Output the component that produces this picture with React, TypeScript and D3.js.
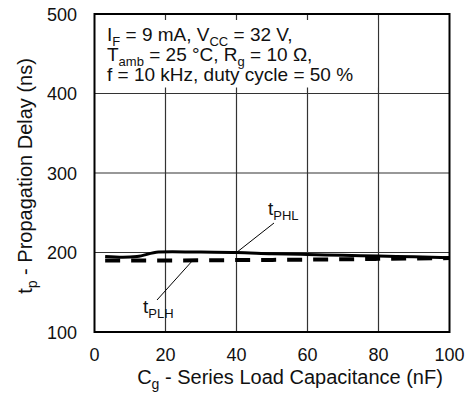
import React from "react";
import * as d3 from "d3";

const xTicks = [0, 20, 40, 60, 80, 100];
const yTicks = [100, 200, 300, 400, 500];
const tphlX = [3, 8, 12, 18, 22, 30, 40, 50, 60, 70, 80, 90, 100];
const tphlY = [195, 194, 195, 200.5, 201, 200.5, 200, 198.5, 197.5, 196.5, 195.5, 194.5, 193.5];
const tplhX = [3, 20, 40, 60, 80, 100];
const tplhY = [190, 190, 190.5, 191, 192, 193];
const xTitle = ["C", "g", " - Series Load Capacitance (nF)"];
const yTitle = ["t", "p", " - Propagation Delay (ns)"];
const condLines: string[][] = [
  ["I", "F", " = 9 mA, V", "CC", " = 32 V,"],
  ["T", "amb", " = 25 °C, R", "g", " = 10 Ω,"],
  ["f = 10 kHz, duty cycle = 50 %"],
];
const labelPHL = ["t", "PHL"];
const labelPLH = ["t", "PLH"];

const W = 471, H = 400;
const L = 94.5, R = 449.5, T = 14, B = 332;
const FONT = "'Liberation Sans', Arial, Helvetica, sans-serif";

function SubText({ parts, x, y, size, subSize, anchor, transform }: any) {
  const spans: any[] = [];
  parts.forEach((p: string, i: number) => {
    const isSub = i % 2 === 1;
    const prevSub = i > 0 && (i - 1) % 2 === 1;
    let dy = 0;
    if (isSub) dy = size * 0.25;
    else if (prevSub) dy = -size * 0.25;
    spans.push(
      <tspan key={i} dy={dy} fontSize={isSub ? subSize : size}>
        {p}
      </tspan>
    );
  });
  return (
    <text x={x} y={y} fontSize={size} textAnchor={anchor || "start"} transform={transform} fill="#111" style={{ whiteSpace: "pre" }}>
      {spans}
    </text>
  );
}

export default function App() {
  const x = d3.scaleLinear().domain([0, 100]).range([L, R]);
  const y = d3.scaleLinear().domain([100, 500]).range([B, T]);
  const line = d3
    .line<[number, number]>()
    .x((d) => x(d[0]))
    .y((d) => y(d[1]))
    .curve(d3.curveMonotoneX);
  const phl = tphlX.map((v, i) => [v, tphlY[i]] as [number, number]);
  const plh = tplhX.map((v, i) => [v, tplhY[i]] as [number, number]);

  return (
    <svg width={W} height={H} style={{ position: "absolute", left: 0, top: 0, background: "#fff" }} fontFamily={FONT}>
      <rect x={0} y={0} width={W} height={H} fill="#fff" />
      {xTicks.slice(1, -1).map((t) => (
        <line key={"gx" + t} x1={x(t)} x2={x(t)} y1={T} y2={B} stroke="#333" strokeWidth={1.2} />
      ))}
      {yTicks.slice(1, -1).map((t) => (
        <line key={"gy" + t} x1={L} x2={R} y1={y(t)} y2={y(t)} stroke="#333" strokeWidth={1.2} />
      ))}
      <rect x={L + 1} y={T + 6} width={x(80) - L - 2} height={y(400) - T - 12} fill="#fff" />
      {condLines.map((ln, i) => (
        <SubText key={i} parts={ln} x={107} y={41 + i * 20} size={19} subSize={13} />
      ))}
      <path d={line(plh) || ""} fill="none" stroke="#000" strokeWidth={4} strokeDasharray="15 11" />
      <path d={line(phl) || ""} fill="none" stroke="#000" strokeWidth={3} />
      <line x1={274} y1={223} x2={x(40)} y2={y(200)} stroke="#000" strokeWidth={1} />
      <SubText parts={labelPHL} x={268} y={215} size={19} subSize={13} />
      <line x1={157} y1={300} x2={193} y2={y(190.5)} stroke="#000" strokeWidth={1} />
      <SubText parts={labelPLH} x={143} y={313} size={19} subSize={13} />
      <rect x={L} y={T} width={R - L} height={B - T} fill="none" stroke="#000" strokeWidth={2} />
      {xTicks.map((t) => (
        <text key={"xl" + t} x={x(t)} y={361} fontSize={18} textAnchor="middle" fill="#111">
          {t}
        </text>
      ))}
      {yTicks.map((t) => (
        <text key={"yl" + t} x={77} y={y(t) + 6.5} fontSize={18} textAnchor="end" fill="#111">
          {t}
        </text>
      ))}
      <SubText parts={xTitle} x={290} y={384} size={20} subSize={14} anchor="middle" />
      <SubText parts={yTitle} x={0} y={0} size={20} subSize={14} anchor="middle" transform={`translate(32,176) rotate(-90)`} />
    </svg>
  );
}
